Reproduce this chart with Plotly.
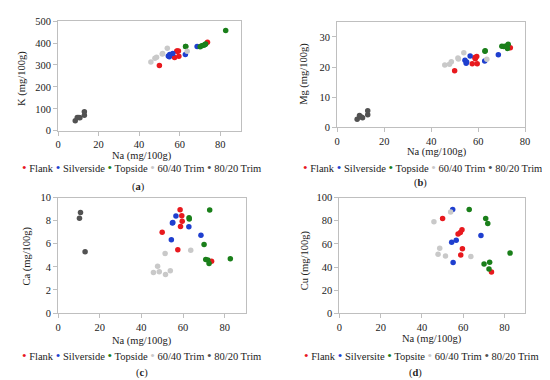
import plotly.graph_objects as go

# ---------------- data ----------------
groups = ["Flank", "Silverside", "Topside", "60/40 Trim", "80/20 Trim"]
groups_d = ["Flank", "Silversite", "Topsite", "60/40 Trim", "80/20 Trim"]
colors = ["#e8191e", "#1f3fcf", "#1a7f1a", "#c9c9c9", "#525252"]

flank_na = [50.0, 57.5, 58.6, 58.8, 59.4, 59.6, 73.7]
flank_k = [298, 334, 364, 362, 364, 340, 404]
flank_mg = [18.8, 21.1, 23.2, 22.8, 23.5, 21.1, 26.4]
flank_ca = [6.99, 5.48, 8.95, 7.5, 8.42, 7.94, 4.48]
flank_cu = [81.8, 68.4, 69.8, 50.3, 72.1, 55.8, 35.7]

silver_na = [54.4, 54.9, 55.1, 56.6, 62.8, 68.6]
silver_k = [341, 337, 348, 352, 348, 384]
silver_mg = [22.3, 21.3, 21.7, 23.7, 22.0, 24.1]
silver_ca = [6.35, 7.8, 7.83, 8.39, 7.47, 6.74]
silver_cu = [61.4, 89.7, 43.8, 63.1, None, 67.1]

top_na = [62.9, 63.0, 70.1, 70.9, 71.9, 72.5, 72.8, 82.7]
top_k = [384, 384, 383, 387, 390, 393, 396, 457]
top_mg = [25.3, 25.4, 26.9, 26.8, 27.0, 26.2, 27.6, 28.0]
top_ca = [8.25, 8.14, 5.93, 4.64, 4.59, 4.28, 8.92, 4.7]
top_cu = [89.7, None, 42.7, 81.8, 77.6, 38.2, 44.1, 52.0]

t6040_na = [45.8, 47.8, 48.6, 51.4, 51.6, 53.9, 63.7]
t6040_k = [314, 330, 335, 350, 352, 376, 363]
t6040_mg = [20.7, 20.9, 21.8, 23.0, 22.7, 24.8, 22.6]
t6040_ca = [3.5, 4.06, 3.58, 5.15, 3.33, 3.66, 5.43]
t6040_cu = [79.0, 51.1, 56.1, 49.4, None, 87.4, 49.1]

t8020_na = [8.5, 9.5, 10.3, 10.8, 13.0, 13.0]
t8020_k = [46, 60, 60, 59, 71, 87]
t8020_mg = [2.7, 3.9, 3.4, 3.2, 4.2, 5.5]
t8020_ca = [None, None, 8.2, 8.7, 5.3, None]
t8020_cu = [None, None, None, None, None, None]

na_all = [flank_na, silver_na, top_na, t6040_na, t8020_na]
panels = [
    dict(name="a", y=[flank_k, silver_k, top_k, t6040_k, t8020_k], ytitle="K (mg/100g)",
         xr=[0, 90], yr=[0, 500], dy=100, names=groups),
    dict(name="b", y=[flank_mg, silver_mg, top_mg, t6040_mg, t8020_mg], ytitle="Mg (mg/100g)",
         xr=[0, 80], yr=[0, 35], dy=10, names=groups),
    dict(name="c", y=[flank_ca, silver_ca, top_ca, t6040_ca, t8020_ca], ytitle="Ca (mg/100g)",
         xr=[0, 90], yr=[0, 10], dy=2, names=groups),
    dict(name="d", y=[flank_cu, silver_cu, top_cu, t6040_cu, t8020_cu], ytitle="Cu (mg/100g)",
         xr=[0, 90], yr=[0, 100], dy=20, names=groups_d),
]

W, H = 550, 380
# plot-area pixel boxes (left, right, top, bottom)
boxes = [(47.7, 232.9, 8.3, 121.3), (331.0, 521.7, 9.2, 117.7),
         (47.7, 238.0, 190.0, 309.0), (333.3, 521.7, 190.0, 309.3)]
legend_pos = [(132, 159.5), (418, 159.5), (132, 353), (417, 353)]
label_pos = [(129, 179), (416, 175), (133, 371), (410, 371)]
xtitle_pos = [(133, 147.5), (432, 143.5), (133, 337.5), (427, 335.5)]
ytitle_pos = [(11, 67), (297, 63), (16, 250), (298, 255)]

FONT = "Liberation Serif, Times New Roman, serif"
FS = 10.5
AX = "#bfbfbf"
TXT = "#222"

fig = go.Figure()
annotations = []


def ann(text, px_, py_, size=FS, angle=0):
    return dict(text=text, x=px_ / W, y=1 - py_ / H, xref="paper", yref="paper",
                showarrow=False, xanchor="center", yanchor="middle", textangle=angle,
                font=dict(family=FONT, size=size, color=TXT))


for i, p in enumerate(panels):
    sfx = "" if i == 0 else str(i + 1)
    for g in range(5):
        fig.add_trace(go.Scatter(
            x=na_all[g], y=p["y"][g], mode="markers", name=p["names"][g],
            marker=dict(color=colors[g], size=5.5),
            xaxis="x" + sfx, yaxis="y" + sfx, showlegend=False, cliponaxis=True))
    l, r, t, b = boxes[i]
    common = dict(showline=True, linecolor=AX, linewidth=1, mirror=True, ticks="outside",
                  ticklen=4, tickcolor=AX, showgrid=False, zeroline=False,
                  tickfont=dict(family=FONT, size=FS, color=TXT))
    fig.layout["xaxis" + sfx] = dict(
        domain=[l / W, r / W], range=p["xr"], dtick=20, tick0=0,
        anchor="y" + sfx, **common)
    fig.layout["yaxis" + sfx] = dict(
        domain=[1 - b / H, 1 - t / H], range=p["yr"], dtick=p["dy"], tick0=0,
        anchor="x" + sfx, **common)
    leg = " ".join(
        '<span style="color:%s;font-size:13px">\u2022</span> %s' % (colors[g], p["names"][g])
        for g in range(5))
    annotations.append(ann(leg, *legend_pos[i]))
    annotations.append(ann("(<b>%s</b>)" % p["name"], *label_pos[i]))
    annotations.append(ann("Na (mg/100g)", *xtitle_pos[i]))
    annotations.append(ann(p["ytitle"], *ytitle_pos[i], angle=-90))

fig.update_layout(width=W, height=H, margin=dict(l=0, r=0, t=0, b=0),
                  paper_bgcolor="white", plot_bgcolor="white",
                  annotations=annotations, showlegend=False)
fig.write_html("out.html")
